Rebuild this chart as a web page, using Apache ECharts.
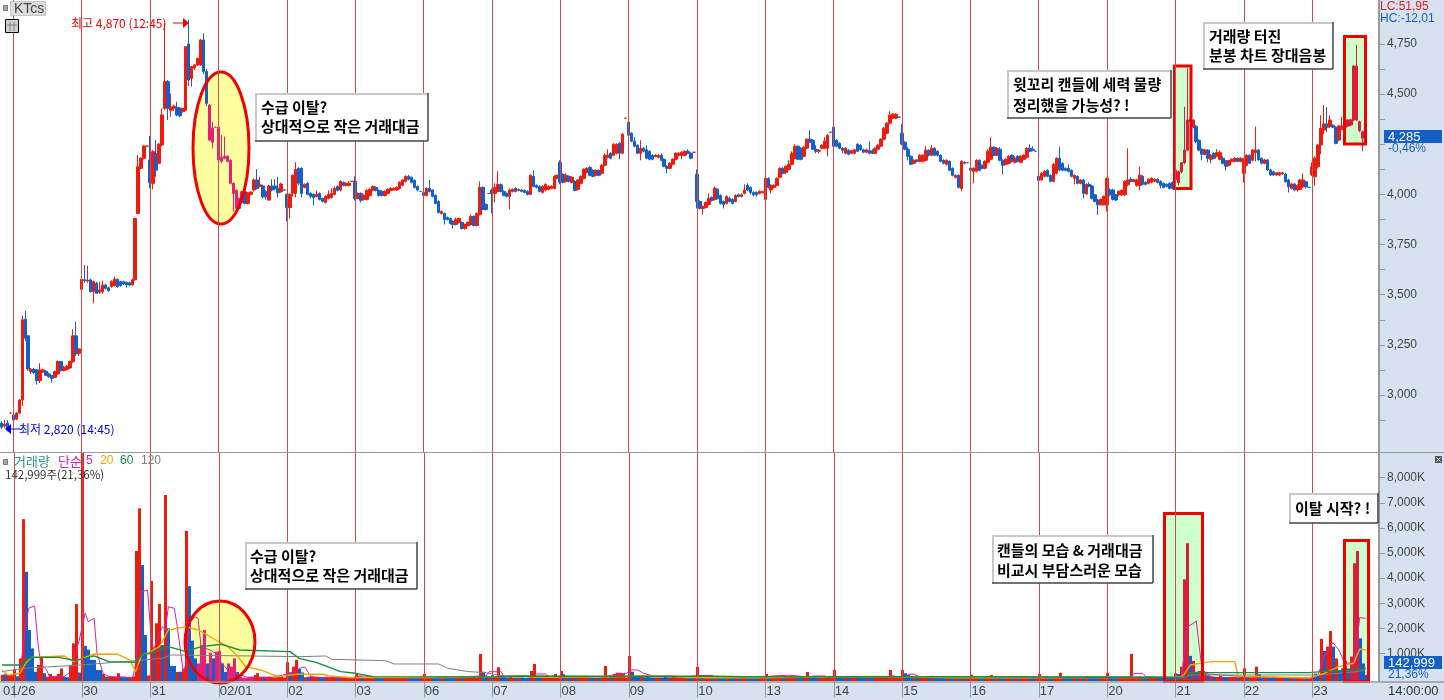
<!DOCTYPE html>
<html>
<head>
<meta charset="utf-8">
<title>KTcs</title>
<script src="https://cdn.jsdelivr.net/npm/echarts@6/dist/echarts.min.js"></script>
<style>
  html, body { margin: 0; padding: 0; background: #fff; }
  #chart { width: 1444px; height: 700px; }
</style>
</head>
<body>
<div id="chart"></div>
<script>
// day labels and the first candle of each day
const dayLabels = ['01/26', '30', '31', '02/01', '02', '03', '06', '07', '08', '09', '10', '13', '14', '15', '16', '17', '20', '21', '22', '23'];
// 4,250 has no label in the terminal, the last price tag sits there
const priceTicks = [3000, 3250, 3500, 3750, 4000, 4500, 4750];
const priceMinorTicks = [2875, 3000, 3125, 3250, 3375, 3500, 3625, 3750, 3875, 4000, 4125, 4250, 4375, 4500, 4625, 4750, 4875];
const volumeTicks = [1000, 2000, 3000, 4000, 5000, 6000, 7000, 8000];

// candles, one row per bar: [open, close, low, high]
const dayPrev = [[2860,2840,2830,2870],[2845,2855,2835,2875],[2860,2835,2820,2875],[2910,2910,2910,2910]];
const day0126 = [[2900,2875,2870,2940],[2880,2910,2875,2915],[2910,2975,2905,2980],[2975,3375,2945,3395],[3378,3283,3270,3420],[3295,3130,3120,3298],[3117,3128,3105,3135],[3128,3112,3105,3135],[3125,3072,3052,3130],[3072,3125,3060,3158],[3115,3125,3110,3130],[3118,3098,3095,3125],[3105,3092,3085,3112],[3097,3083,3062,3100],[3088,3117,3085,3122],[3105,3167,3100,3172],[3167,3122,3118,3170],[3122,3138,3118,3145],[3128,3142,3122,3150],[3135,3167,3130,3172],[3167,3295,3160,3328],[3295,3205,3195,3366],[3208,3230,3195,3235]];
const day0130 = [[3527,3577,3496,3765],[3575,3570,3560,3648],[3568,3573,3560,3644],[3574,3516,3510,3580],[3516,3565,3457,3570],[3557,3507,3505,3565],[3512,3524,3505,3565],[3515,3548,3505,3570],[3548,3532,3525,3555],[3535,3520,3515,3540],[3541,3565,3535,3572],[3545,3578,3540,3590],[3577,3541,3535,3580],[3565,3545,3540,3570],[3565,3553,3548,3570],[3562,3550,3535,3566],[3560,3548,3542,3565],[3549,3574,3545,3580],[3574,3880,3570,3885],[3905,4138,3900,4196],[4130,4180,4125,4185],[4180,4241,4175,4245],[4241,4241,4241,4241]];
const day0131 = [[4171,4058,4030,4291],[4055,4213,4025,4221],[4205,4121,4088,4271],[4155,4251,4150,4255],[4246,4396,4240,4429],[4429,4562,4420,4853],[4562,4429,4371,4570],[4420,4435,4387,4503],[4430,4440,4415,4448],[4434,4396,4390,4462],[4430,4392,4385,4435],[4412,4428,4408,4432],[4420,4736,4415,4740],[4750,4570,4540,4870],[4578,4637,4537,4640],[4630,4645,4620,4650],[4645,4678,4640,4682],[4645,4770,4640,4775],[4770,4612,4600,4803],[4612,4454,4440,4625],[4445,4271,4265,4450],[4260,4330,4229,4362],[4335,4335,4335,4335]];
const day0201 = [[4334,4171,4096,4374],[4165,4185,4155,4296],[4180,4190,4175,4288],[4190,4165,4160,4195],[4170,4055,4050,4175],[4055,4005,3914,4060],[4020,3930,3925,4025],[3930,3980,3925,3985],[3960,4013,3955,4018],[4013,3955,3950,4020],[3955,4008,3950,4012],[4000,4012,3995,4015],[4022,4072,4015,4080],[4072,4030,4025,4126],[4040,4048,4035,4088],[4042,3988,3980,4048],[4015,3988,3975,4020],[3972,4042,3968,4048],[4042,4022,4015,4075],[4042,4030,4020,4075],[4030,4008,3985,4088],[4013,4052,4008,4058],[4022,4022,4022,4022]];
const day0202 = [[4000,3935,3865,4005],[3935,4000,3880,4005],[4005,4095,3990,4100],[4005,4125,3985,4160],[4130,4055,4045,4135],[4130,4005,3985,4135],[4035,4050,4030,4055],[4055,4000,3995,4060],[4005,3990,3980,4010],[4000,3985,3945,4005],[3990,4000,3985,4020],[4005,3975,3970,4010],[3980,3965,3960,3985],[3960,3990,3955,3995],[3980,4000,3975,4020],[3985,4005,3980,4030],[4000,4030,3995,4040],[4040,4020,4015,4045],[4022,4065,4015,4070],[4060,4045,4040,4065],[4045,4055,4040,4060],[4045,4055,4040,4065],[4065,4065,4065,4065]];
const day0203 = [[4065,3980,3970,4090],[3980,4005,3975,4010],[4005,3970,3960,4010],[3975,3995,3970,4000],[3975,4020,3970,4025],[3995,4025,3990,4030],[4020,4040,4015,4045],[4035,4020,4015,4040],[4020,3995,3990,4025],[4015,3995,3990,4020],[3995,4015,3990,4020],[4005,4025,4000,4030],[4020,4030,4015,4035],[4022,4030,4020,4035],[4022,4035,4018,4040],[4030,4060,4025,4065],[4045,4072,4040,4075],[4065,4090,4060,4095],[4090,4075,4070,4098],[4085,4060,4055,4090],[4070,4035,4030,4075],[4040,4022,4015,4045],[4015,4015,4015,4015]];
const day0206 = [[4010,3995,3930,4015],[3995,4030,3990,4035],[4030,4015,4010,4072],[4022,3990,3985,4025],[3995,3955,3950,4000],[3965,3910,3905,3970],[3905,3915,3900,3920],[3905,3875,3850,3910],[3885,3875,3870,3890],[3880,3855,3850,3885],[3865,3850,3830,3870],[3850,3875,3845,3885],[3860,3880,3855,3885],[3860,3830,3825,3865],[3830,3850,3825,3855],[3845,3860,3840,3865],[3850,3890,3845,3900],[3890,3845,3840,3895],[3845,3905,3840,3910],[3900,4035,3895,4065],[4035,3925,3920,4040],[3950,3925,3920,3955],[4005,4005,4005,4005]];
const day0207 = [[4022,4005,3905,4030],[4005,4035,3960,4055],[4015,4050,4010,4115],[4048,4015,4010,4055],[4015,3995,3990,4020],[4005,3990,3985,4010],[3990,4022,3925,4030],[4015,4025,4010,4030],[4030,4015,4010,4035],[4020,4025,4015,4030],[4022,4015,4010,4028],[4020,4010,4005,4025],[4015,4000,3995,4020],[4000,4095,3995,4100],[4090,4040,4035,4120],[4045,4035,4030,4050],[4040,4015,4010,4045],[4010,4040,4005,4045],[4022,4050,4015,4055],[4025,4040,4020,4045],[4030,4040,4025,4045],[4030,4090,4025,4095],[4080,4095,4075,4100]];
const day0208 = [[4160,4060,4050,4170],[4100,4060,4055,4105],[4065,4095,4060,4105],[4090,4065,4060,4095],[4060,4085,4055,4090],[4065,4020,4015,4070],[4025,4072,4020,4075],[4055,4090,4050,4095],[4080,4125,4075,4130],[4110,4130,4105,4135],[4135,4095,4090,4140],[4120,4090,4085,4125],[4095,4120,4090,4125],[4120,4095,4090,4125],[4105,4145,4100,4150],[4145,4195,4140,4205],[4185,4195,4180,4225],[4205,4180,4175,4210],[4195,4250,4190,4255],[4205,4250,4200,4255],[4255,4205,4175,4260],[4205,4300,4200,4305],[4380,4380,4380,4380]];
const day0209 = [[4360,4295,4195,4365],[4305,4265,4260,4310],[4265,4240,4235,4285],[4245,4205,4200,4250],[4205,4230,4170,4270],[4230,4215,4210,4235],[4222,4180,4175,4245],[4215,4175,4170,4220],[4195,4175,4170,4200],[4188,4195,4185,4200],[4185,4195,4180,4200],[4195,4170,4165,4205],[4175,4140,4135,4180],[4140,4130,4105,4145],[4130,4155,4125,4160],[4150,4175,4145,4180],[4175,4205,4170,4210],[4195,4205,4190,4210],[4195,4210,4175,4215],[4195,4215,4190,4220],[4215,4205,4200,4225],[4205,4180,4175,4210],[4210,4210,4210,4210]];
const day0210 = [[4100,3965,3930,4125],[3965,3930,3925,3970],[3930,3940,3900,3945],[3935,3960,3930,3965],[3950,3980,3945,4005],[3985,3970,3965,3990],[3975,4030,3970,4040],[4025,3980,3975,4030],[3995,3955,3950,4000],[3965,3950,3930,3970],[3955,3990,3950,3995],[3980,3965,3960,3990],[3975,3955,3950,3980],[3965,3995,3960,4000],[3998,3990,3985,4005],[3990,3998,3985,4005],[4005,4022,4000,4050],[4045,4022,4015,4055],[4035,4010,4000,4040],[4010,3998,3990,4015],[4010,3998,3990,4015],[4005,4015,4000,4020],[4008,4015,4005,4018]];
const day0213 = [[3975,4080,3970,4105],[4080,4035,4030,4085],[4022,4045,4005,4050],[4035,4045,4030,4050],[4045,4080,4040,4085],[4085,4130,4080,4135],[4130,4105,4100,4135],[4110,4140,4100,4145],[4125,4150,4120,4170],[4150,4205,4145,4215],[4180,4240,4175,4250],[4240,4175,4170,4245],[4230,4175,4170,4235],[4190,4235,4185,4240],[4230,4275,4225,4280],[4275,4260,4255,4320],[4270,4225,4220,4275],[4225,4215,4205,4245],[4215,4220,4205,4225],[4230,4245,4225,4250],[4230,4265,4225,4285],[4230,4295,4190,4300],[4310,4310,4310,4310]];
const day0214 = [[4335,4240,4185,4340],[4270,4240,4235,4275],[4255,4230,4225,4260],[4230,4220,4205,4235],[4205,4230,4200,4235],[4220,4200,4195,4225],[4205,4218,4200,4220],[4205,4222,4200,4225],[4250,4215,4210,4255],[4245,4222,4218,4250],[4222,4210,4205,4228],[4210,4222,4205,4228],[4218,4205,4200,4265],[4218,4205,4200,4225],[4205,4230,4200,4235],[4225,4245,4220,4250],[4240,4275,4235,4280],[4275,4330,4270,4335],[4305,4355,4300,4360],[4355,4395,4350,4415],[4380,4400,4375,4405],[4380,4400,4375,4405],[4385,4385,4385,4385]];
const day0215 = [[4305,4250,4245,4350],[4260,4225,4220,4265],[4225,4190,4170,4235],[4190,4150,4145,4195],[4155,4170,4150,4175],[4172,4165,4160,4175],[4165,4195,4160,4200],[4165,4195,4160,4200],[4170,4220,4165,4240],[4220,4195,4190,4225],[4195,4230,4190,4245],[4230,4195,4190,4235],[4215,4195,4190,4220],[4195,4165,4160,4200],[4170,4155,4150,4175],[4150,4170,4145,4175],[4165,4120,4115,4170],[4130,4095,4090,4135],[4085,4095,4080,4100],[4095,4035,4030,4100],[4030,4165,4015,4170],[4160,4155,4150,4165],[4158,4158,4158,4158]];
const day0216 = [[4130,4120,4100,4220],[4115,4130,4055,4135],[4115,4170,4110,4175],[4170,4120,4115,4175],[4145,4130,4125,4150],[4130,4165,4125,4170],[4160,4215,4155,4225],[4175,4235,4170,4285],[4235,4195,4190,4240],[4195,4230,4190,4235],[4225,4170,4165,4235],[4170,4145,4100,4175],[4150,4175,4145,4180],[4155,4190,4150,4195],[4195,4165,4160,4200],[4160,4180,4155,4190],[4190,4165,4160,4195],[4160,4190,4155,4195],[4175,4195,4170,4200],[4185,4230,4180,4235],[4230,4215,4210,4250],[4225,4220,4215,4240],[4215,4215,4215,4215]];
const day0217 = [[4090,4070,4040,4120],[4072,4105,4068,4110],[4090,4115,4085,4120],[4120,4090,4085,4125],[4095,4065,4060,4100],[4065,4150,4060,4155],[4105,4180,4100,4185],[4180,4122,4115,4238],[4155,4120,4115,4160],[4130,4120,4115,4135],[4130,4115,4110,4150],[4120,4090,4085,4125],[4080,4095,4050,4100],[4090,4055,4050,4095],[4055,4072,4050,4075],[4072,4005,3980,4075],[4002,4050,3998,4055],[4050,4040,4035,4060],[4042,3980,3975,4048],[3998,3965,3960,4002],[3972,3948,3898,3978],[3948,3975,3945,3980],[3948,3990,3945,3995]];
const day0220 = [[3948,4080,3915,4085],[4022,3998,3990,4030],[4022,3975,3970,4028],[3998,3972,3968,4002],[3998,4015,3990,4020],[3998,4020,3992,4025],[3998,4065,3992,4070],[4048,4072,4040,4230],[4075,4065,4060,4085],[4065,4072,4060,4078],[4045,4072,4038,4078],[4045,4095,4020,4138],[4090,4050,4045,4095],[4060,4050,4045,4065],[4055,4075,4050,4080],[4060,4080,4055,4085],[4065,4075,4060,4080],[4075,4060,4055,4080],[4065,4045,4030,4070],[4055,4035,4030,4060],[4050,4040,4035,4055],[4055,4030,4025,4060],[4060,4030,4025,4065]];
const day0221 = [[4072,4121,4030,4125],[4058,4113,4045,4118],[4113,4158,4105,4162],[4158,4221,4150,4437],[4221,4371,4215,4628],[4365,4375,4360,4380],[4370,4338,4330,4375],[4340,4263,4255,4345],[4270,4221,4215,4275],[4225,4200,4170,4230],[4200,4221,4195,4226],[4221,4180,4160,4225],[4175,4195,4155,4200],[4205,4180,4175,4210],[4190,4208,4185,4225],[4175,4208,4170,4220],[4180,4155,4150,4190],[4168,4140,4120,4172],[4145,4168,4140,4172],[4165,4175,4160,4180],[4165,4180,4160,4185],[4180,4165,4160,4185],[4165,4180,4160,4185]];
const day0222 = [[4105,4175,4058,4180],[4145,4195,4140,4200],[4195,4155,4150,4200],[4170,4221,4165,4226],[4208,4221,4165,4338],[4221,4172,4168,4226],[4180,4155,4150,4185],[4155,4172,4150,4178],[4172,4122,4118,4176],[4122,4097,4092,4128],[4113,4097,4092,4118],[4097,4108,4092,4112],[4097,4108,4092,4112],[4102,4108,4098,4112],[4102,4063,4058,4108],[4072,4038,4010,4078],[4030,4052,4025,4058],[4052,4022,4015,4058],[4022,4045,4015,4050],[4025,4072,4020,4078],[4038,4072,4032,4105],[4063,4038,4030,4068],[4035,4035,4035,4035]];
const day0223 = [[4097,4138,4092,4160],[4088,4180,4043,4190],[4138,4246,4130,4250],[4246,4329,4200,4395],[4321,4351,4300,4445],[4351,4335,4310,4435],[4338,4371,4330,4395],[4345,4335,4330,4350],[4335,4254,4250,4340],[4271,4341,4265,4345],[4325,4341,4320,4387],[4335,4351,4330,4356],[4371,4341,4335,4375],[4346,4371,4340,4376],[4371,4640,4365,4645],[4640,4371,4365,4745],[4362,4318,4310,4368],[4312,4280,4215,4318],[4305,4285,4270,4310]];

// volume in thousands, negative means a blue bar
const volPrev = [150,-170,140,130];
const vol0126 = [340,-90,800,6350,-4250,-1930,-1200,-270,540,880,-210,70,180,75,75,180,400,-75,-50,540,1400,2970,-240];
const vol0130 = [8980,-1300,-1150,-740,-740,-340,-340,180,-75,80,70,70,210,-75,-75,-50,50,80,5080,6780,-4520,-1730,120];
const vol0131 = [3885,-1136,2200,2970,-1330,7310,-2000,-500,-500,260,-270,380,5880,-3680,-1510,-800,600,1330,1930,-600,1030,-800,1070];
const vol0201 = [1100,-600,-260,600,470,800,-260,75,30,30,75,75,140,210,75,-75,75,75,40,40,75,75,40];
const vol0202 = [645,-245,470,740,-380,-240,50,-70,90,60,60,-50,-40,70,40,60,50,-60,40,60,50,40,30];
const vol0203 = [200,110,-70,40,50,60,40,-50,-40,-30,40,30,30,30,40,50,40,40,-40,-30,-40,-30,40];
const vol0206 = [180,40,100,-60,-70,-100,40,-100,-100,-50,-60,40,40,-40,30,30,60,70,70,980,-270,-80,30];
const vol0207 = [-130,60,450,-130,-60,-40,70,40,-40,40,-40,-30,-40,300,580,-80,-60,50,50,60,50,180,60];
const vol0208 = [300,-170,60,-60,70,-60,50,60,70,50,-50,-40,40,-40,60,500,60,-80,180,230,230,180,40];
const vol0209 = [900,-270,-90,-80,70,-50,-60,-50,-40,40,40,-40,-60,-40,40,50,60,40,40,50,-40,-40,30];
const vol0210 = [460,-100,50,40,60,-30,50,-40,-40,-30,40,-30,-30,40,-20,20,30,-30,-30,-20,-20,20,20];
const vol0213 = [180,-60,40,30,90,40,-30,40,90,110,100,-90,-60,40,260,-100,-70,-40,30,30,40,60,30];
const vol0214 = [340,-60,-40,-30,40,-40,30,30,-50,-40,-30,30,-30,-30,50,60,90,90,70,340,120,80,40];
const vol0215 = [340,-210,-140,-80,40,-40,50,40,60,-40,40,-40,-30,-30,-30,20,-20,-30,20,-30,30,-20,20];
const vol0216 = [150,60,40,-40,-30,30,50,140,-40,40,-40,-60,30,30,-30,30,-30,30,30,60,-30,-20,20];
const vol0217 = [180,40,90,-60,-40,50,70,230,-60,-30,-30,-50,30,-40,30,-60,100,-30,-50,-40,-40,30,60];
const vol0220 = [230,-60,-40,-30,30,30,70,80,980,30,40,70,-40,-30,30,40,30,-30,-30,-30,-30,-40,-50];
const vol0221 = [207,-180,470,3950,5390,-900,700,-270,300,-180,208,-130,90,-70,60,110,-60,-60,60,60,60,-50,60];
const vol0222 = [405,-50,40,50,470,-170,-40,40,-30,-30,-40,30,30,30,-40,-50,30,-50,30,40,50,-40,30];
const vol0223 = [60,-200,-140,1580,-1100,1270,1890,-1270,800,-300,-400,700,-400,870,4590,5080,-1600,-600,-143];

// moving averages of volume, vertices: [bar index, thousands]
const ma5 = [[0,75],[6,205],[7,1136],[8,2200],[9,2800],[11,2890],[12,1530],[13,600],[15,340],[16,75],[21,75],[23,270],[25,1136],[26,1530],[28,2600],[29,2265],[31,2400],[32,1003],[34,205],[36,75],[44,30],[45,605],[46,2200],[47,3460],[49,3526],[50,1930],[51,1136],[54,2066],[55,1930],[56,2860],[58,2796],[59,2066],[61,270],[62,605],[63,2200],[65,2464],[66,2398],[67,1270],[70,1136],[72,1003],[74,605],[76,340],[79,205],[83,30],[90,20],[97,205],[101,445],[102,445],[104,75],[108,30],[118,40],[120,90],[122,100],[125,40],[140,30],[163,100],[164,270],[168,270],[169,100],[179,80],[180,180],[183,180],[184,80],[204,80],[206,170],[210,200],[211,250],[212,340],[214,340],[216,200],[220,80],[228,50],[236,125],[239,125],[240,50],[258,50],[259,100],[265,130],[272,50],[273,100],[277,100],[278,40],[304,50],[305,170],[307,170],[309,50],[330,40],[340,80],[345,80],[350,40],[370,60],[380,60],[381,205],[384,205],[385,75],[394,30],[397,75],[399,2066],[401,2198],[402,2292],[403,1269],[404,340],[406,180],[420,60],[440,20],[443,140],[445,870],[448,1428],[450,1136],[452,605],[455,630],[456,1402],[457,2424],[459,2398]];
const ma20 = [[0,340],[2,140],[6,207],[8,605],[10,845],[14,870],[21,895],[24,672],[27,805],[31,977],[39,964],[43,738],[45,273],[47,937],[49,1003],[53,1269],[56,1933],[62,2066],[66,1933],[72,1534],[76,1269],[79,937],[82,472],[87,340],[93,75],[97,140],[99,170],[108,170],[110,100],[117,40],[125,40],[150,40],[165,60],[175,100],[180,50],[205,70],[215,100],[225,100],[230,40],[240,30],[258,30],[270,60],[295,80],[305,60],[320,30],[350,30],[385,40],[397,60],[398,180],[400,538],[403,600],[407,671],[415,671],[416,100],[440,20],[445,207],[450,472],[455,605],[457,1176],[459,1136]];
const ma60 = [[0,540],[7,540],[8,740],[10,840],[19,840],[25,710],[31,900],[36,670],[45,645],[47,937],[50,1003],[56,1269],[62,1070],[67,1269],[74,1362],[80,1136],[97,1070],[100,804],[106,631],[114,273],[119,206],[125,73],[165,60],[175,100],[200,90],[240,90],[250,70],[320,70],[398,40],[400,233],[440,233],[444,273],[455,340],[459,406]];
const ma120 = [[0,270],[7,406],[27,540],[45,710],[54,805],[57,937],[101,870],[109,897],[111,764],[129,711],[132,578],[147,578],[150,405],[157,273],[163,233],[168,100],[180,75],[396,60],[398,60],[400,140],[443,140],[456,273],[459,340]];

const candleRows = [].concat(dayPrev, day0126, day0130, day0131, day0201, day0202, day0203, day0206, day0207, day0208, day0209, day0210, day0213, day0214, day0215, day0216, day0217, day0220, day0221, day0222, day0223);
const volumeRows = [].concat(volPrev, vol0126, vol0130, vol0131, vol0201, vol0202, vol0203, vol0206, vol0207, vol0208, vol0209, vol0210, vol0213, vol0214, vol0215, vol0216, vol0217, vol0220, vol0221, vol0222, vol0223);

const barCount = 464;
const dayStarts = dayLabels.map((d, i) => dayPrev.length + i * day0126.length);

// first label sits left of its day line, as in the terminal
const categories = [];
for (let i = 0; i < barCount; i++) categories.push('');
dayLabels.forEach((d, i) => { categories[i === 0 ? 0 : dayStarts[i]] = d; });

const RED = '#EE1C0C', BLUE = '#1560C8', PINK = '#E6207A', CRIMSON = '#D81E3C';
const LINE_RED = '#D24A4C', GRAY = '#999999', PANEL = '#D6E2EF';
const FONT_KR = '"Noto Sans CJK KR"';
const FONT_NUM = '"Liberation Sans"';

function inRange(i, ranges) {
  return ranges.some(r => i >= r[0] && i <= r[1]);
}
// reds look different on top of the yellow circles and green boxes
function upColor(i, yellow, green) {
  if (inRange(i, yellow)) return PINK;
  if (inRange(i, green)) return CRIMSON;
  return RED;
}

const candleData = candleRows.map((row, i) => {
  const up = upColor(i, [[70, 81]], [[395, 401], [452, 460]]);
  if (up === RED) return row;
  return { value: row, itemStyle: { color: up, borderColor: up } };
});
const volumeData = volumeRows.map((v, i) => [i, v]);

const dayLines = dayStarts.map(i => ({ xAxis: i }));
const dayLineOption = {
  silent: true,
  symbol: 'none',
  animation: false,
  label: { show: false },
  lineStyle: { color: LINE_RED, width: 1, type: 'solid' },
  data: dayLines
};

function renderVolume(params, api) {
  const i = api.value(0);
  const v = api.value(1);
  const top = api.coord([i, Math.abs(v)]);
  const base = params.coordSys.y + params.coordSys.height;
  const fill = v < 0 ? BLUE : upColor(i, [[64, 84]], [[392, 405], [452, 461]]);
  return {
    type: 'rect',
    shape: { x: Math.round(top[0]) - 1, y: top[1], width: 3, height: base - top[1] },
    style: { fill: fill }
  };
}

function maSeries(name, data, color, width) {
  return {
    name: name,
    type: 'line',
    xAxisIndex: 1,
    yAxisIndex: 1,
    data: data,
    showSymbol: false,
    silent: true,
    lineStyle: { color: color, width: width },
    z: 4
  };
}

// graphic helpers
function label(x, y, text, fill, font, z) {
  return {
    type: 'text', x: x, y: y, z: z || 12,
    style: { text: text, fill: fill, font: font, verticalAlign: 'middle' }
  };
}
function box(x, y, w, h, fill, stroke, lineWidth, z) {
  return {
    type: 'rect', z: z,
    shape: { x: x, y: y, width: w, height: h },
    style: { fill: fill, stroke: stroke, lineWidth: lineWidth }
  };
}
function segment(x1, y1, x2, y2, stroke, lineWidth, z) {
  return {
    type: 'line', z: z,
    shape: { x1: x1, y1: y1, x2: x2, y2: y2 },
    style: { stroke: stroke, lineWidth: lineWidth }
  };
}
// note box with the raised border of the original
function note(x, y, w, h, lines, textX, lineYs) {
  const items = [
    box(x, y, w, h, '#ffffff', null, 0, 10),
    segment(x, y + 1, x + w, y + 1, '#C8C8C8', 2, 11),
    segment(x + 1, y, x + 1, y + h, '#C8C8C8', 2, 11),
    segment(x, y + h, x + w, y + h, '#444444', 1.5, 11),
    segment(x + w, y, x + w, y + h, '#444444', 1.5, 11)
  ];
  lines.forEach((t, i) => {
    items.push(label(textX, lineYs[i], t, '#000000', 'bold 15px ' + FONT_KR));
  });
  return items;
}

const graphics = [].concat(
  // side panel, time band
  [
    box(1380, 0, 64, 700, PANEL, null, 0, -1),
    box(0, 683, 1444, 17, PANEL, null, 0, -1),
    segment(0, 452.5, 1444, 452.5, GRAY, 1, 6),
    segment(0, 682, 1444, 682, GRAY, 1.5, 6)
  ],
  // circles and boxes behind the marks, outlines on top
  [
    { type: 'ellipse', z: 1, shape: { cx: 221, cy: 148, rx: 28, ry: 76 }, style: { fill: '#FFFFA0' } },
    { type: 'ellipse', z: 5, shape: { cx: 221, cy: 148, rx: 28, ry: 76 }, style: { fill: 'none', stroke: '#F00000', lineWidth: 3 } },
    { type: 'ellipse', z: 1, shape: { cx: 220, cy: 642, rx: 35, ry: 41 }, style: { fill: '#FFFFA0' } },
    { type: 'ellipse', z: 5, shape: { cx: 220, cy: 642, rx: 35, ry: 41 }, style: { fill: 'none', stroke: '#F00000', lineWidth: 3 } },
    box(1174.5, 66, 16.5, 122.5, '#CCFFCC', null, 0, 1),
    box(1174.5, 66, 16.5, 122.5, 'none', '#F00000', 3, 5),
    box(1344.5, 36.5, 21, 107.5, '#CCFFCC', null, 0, 1),
    box(1344.5, 36.5, 21, 107.5, 'none', '#F00000', 3, 5),
    box(1164.5, 513.5, 38, 168, '#CCFFCC', null, 0, 1),
    box(1164.5, 513.5, 38, 168, 'none', '#F00000', 3, 5),
    box(1344.5, 540.5, 24, 141, '#CCFFCC', null, 0, 1),
    box(1344.5, 540.5, 24, 141, 'none', '#F00000', 3, 5)
  ],
  note(255, 93, 173, 48, ['수급 이탈?', '상대적으로 작은 거래대금'], 261, [107, 126]),
  note(245, 542, 172, 47, ['수급 이탈?', '상대적으로 작은 거래대금'], 250, [556, 575]),
  note(1007, 70, 164, 48, ['윗꼬리 캔들에 세력 물량', '정리했을 가능성? !'], 1013, [84, 105]),
  note(1203, 22, 130, 47, ['거래량 터진', '분봉 차트 장대음봉'], 1209, [36, 55]),
  note(992, 535, 161, 48, ['캔들의 모습 & 거래대금', '비교시 부담스러운 모습'], 997, [550, 570]),
  note(1289, 493, 89, 30, ['이탈 시작? !'], 1295, [508]),
  // high and low tags
  [
    label(71, 23, '최고 4,870 (12:45)', '#F00000', '12px ' + FONT_KR),
    segment(173, 23, 184, 23, '#F00000', 1, 12),
    { type: 'polygon', z: 12, shape: { points: [[183, 18], [189, 23], [183, 28]] }, style: { fill: '#F00000' } },
    label(19, 429, '최저 2,820 (14:45)', '#0000F0', '12px ' + FONT_KR),
    segment(8, 429, 20, 429, '#0000F0', 1, 12),
    { type: 'polygon', z: 12, shape: { points: [[5, 429], [11, 424], [11, 434]] }, style: { fill: '#0000F0' } }
  ],
  // title area
  [
    box(3.5, 5.5, 4, 5, '#AAAAAA', '#777777', 1, 12),
    box(10.5, 1.5, 35, 14, '#DDDDDD', '#C4C4C4', 1, 12),
    label(14, 9, 'KTcs', '#444444', '14px ' + FONT_NUM),
    box(5.5, 19.5, 13, 13, '#D0D0D0', '#000000', 1, 12),
    segment(10, 22, 10, 31, '#808080', 1, 13),
    segment(14, 22, 14, 31, '#808080', 1, 13),
    segment(7, 25, 17, 25, '#808080', 1, 13),
    label(1380, 7, 'LC:51,95', '#E02020', '12px ' + FONT_NUM),
    label(1380, 19, 'HC:-12,01', '#1560C8', '12px ' + FONT_NUM)
  ],
  // volume legend
  [
    box(3.5, 459.5, 4, 5, '#AAAAAA', '#777777', 1, 12),
    label(14, 461, '거래량', '#2E9090', '13px ' + FONT_KR),
    label(58, 461, '단순', '#D020B0', '13px ' + FONT_KR),
    label(86, 461, '5', '#D020B0', '12px ' + FONT_NUM),
    label(100, 461, '20', '#F0A800', '12px ' + FONT_NUM),
    label(120, 461, '60', '#109040', '12px ' + FONT_NUM),
    label(141, 461, '120', '#808080', '12px ' + FONT_NUM),
    label(5, 475, '142,999주(21,36%)', '#333333', '11.5px ' + FONT_KR)
  ],
  // last value tags
  [
    box(1384, 130, 58, 13, BLUE, null, 0, 12),
    label(1388, 137, '4,285', '#ffffff', '13px ' + FONT_NUM, 13),
    label(1388, 149, '-0,46%', '#1560C8', '12px ' + FONT_NUM),
    box(1384, 656, 58, 13, BLUE, null, 0, 12),
    label(1388, 663, '142,999', '#ffffff', '13px ' + FONT_NUM, 13),
    label(1388, 675, '21,36%', '#1560C8', '12px ' + FONT_NUM),
    label(1388, 691, '14:00:00', '#333333', '13px ' + FONT_NUM),
    box(1435, 456, 7, 7, '#555555', null, 0, 12),
    segment(1436.5, 457.5, 1440.5, 461.5, '#ffffff', 1, 13),
    segment(1440.5, 457.5, 1436.5, 461.5, '#ffffff', 1, 13)
  ]
);

const option = {
  animation: false,
  backgroundColor: '#ffffff',
  grid: [
    { left: -1, top: 0, width: 1380, height: 452 },
    { left: -1, top: 453, width: 1380, height: 228 }
  ],
  xAxis: [
    {
      type: 'category', gridIndex: 0, data: categories, boundaryGap: true,
      axisLine: { show: false }, axisTick: { show: false }, axisLabel: { show: false }, splitLine: { show: false }
    },
    {
      type: 'category', gridIndex: 1, data: categories, boundaryGap: true,
      axisLine: { show: false },
      axisTick: {
        show: true, alignWithLabel: true, length: 19,
        interval: i => dayStarts.indexOf(i) >= 0,
        lineStyle: { color: GRAY, width: 1 }
      },
      axisLabel: {
        show: true, margin: 4, align: 'left', color: '#444444', fontFamily: FONT_NUM, fontSize: 13,
        interval: i => categories[i] !== '',
        padding: [0, 0, 0, 1]
      },
      splitLine: { show: false }
    }
  ],
  yAxis: [
    {
      type: 'value', gridIndex: 0, position: 'right', min: 2716, max: 4969, scale: true,
      axisLine: { show: true, onZero: false, lineStyle: { color: GRAY, width: 2 } },
      axisTick: { show: true, length: 6, customValues: priceMinorTicks, lineStyle: { color: GRAY } },
      axisLabel: {
        show: true, margin: 8, color: '#444444', fontFamily: FONT_NUM, fontSize: 12,
        customValues: priceTicks,
        formatter: v => v.toLocaleString('en-US')
      },
      splitLine: { show: false }
    },
    {
      type: 'value', gridIndex: 1, position: 'right', min: -100, max: 8984,
      axisLine: { show: true, onZero: false, lineStyle: { color: GRAY, width: 2 } },
      axisTick: { show: true, length: 6, customValues: volumeTicks, lineStyle: { color: GRAY } },
      axisLabel: {
        show: true, margin: 8, color: '#444444', fontFamily: FONT_NUM, fontSize: 12,
        customValues: volumeTicks,
        formatter: v => v.toLocaleString('en-US') + 'K'
      },
      splitLine: { show: false }
    }
  ],
  series: [
    {
      name: 'price',
      type: 'candlestick',
      xAxisIndex: 0,
      yAxisIndex: 0,
      data: candleData,
      barWidth: 3,
      silent: true,
      z: 3,
      itemStyle: { color: RED, color0: BLUE, borderColor: RED, borderColor0: BLUE, borderWidth: 1 },
      markLine: dayLineOption
    },
    {
      name: 'volume',
      type: 'custom',
      xAxisIndex: 1,
      yAxisIndex: 1,
      data: volumeData,
      renderItem: renderVolume,
      encode: { x: 0, y: 1 },
      clip: true,
      silent: true,
      z: 3,
      markLine: dayLineOption
    },
    // ma5 goes under the slower averages along the quiet stretch
    maSeries('ma5', ma5, '#D81FB0', 1),
    maSeries('ma120', ma120, '#808080', 1),
    maSeries('ma20', ma20, '#F0A800', 1.4),
    maSeries('ma60', ma60, '#109040', 1.4)
  ],
  graphic: { elements: graphics }
};

const chart = echarts.init(document.getElementById('chart'), null, { width: 1444, height: 700 });
chart.setOption(option);
</script>
</body>
</html>
